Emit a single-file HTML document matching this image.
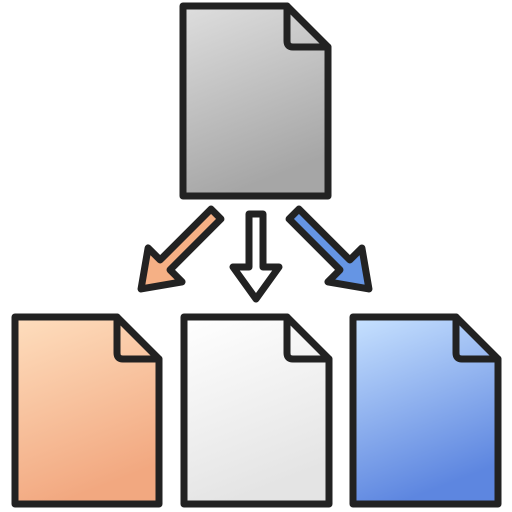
<!DOCTYPE html>
<html><head><style>html,body{margin:0;padding:0;background:#fff}svg{display:block}</style></head>
<body>
<svg width="512" height="512" viewBox="0 0 512 512" xmlns="http://www.w3.org/2000/svg">
<defs>
<linearGradient id="g" x1="0" y1="0" x2="0.3" y2="1"><stop offset="0" stop-color="#dedede"/><stop offset="1" stop-color="#a6a6a6"/></linearGradient>
<linearGradient id="o" x1="0" y1="0" x2="0.3" y2="1"><stop offset="0" stop-color="#fedebe"/><stop offset="1" stop-color="#f2a880"/></linearGradient>
<linearGradient id="w" x1="0" y1="0" x2="0.3" y2="1"><stop offset="0" stop-color="#ffffff"/><stop offset="1" stop-color="#e4e4e4"/></linearGradient>
<linearGradient id="b" x1="0" y1="0" x2="0.3" y2="1"><stop offset="0" stop-color="#c8e2ff"/><stop offset="1" stop-color="#5d86e0"/></linearGradient>
</defs>
<g stroke="#222" stroke-width="7" stroke-linejoin="round" stroke-linecap="round">
<path d="M183 6 H287 L328 47 V196 H183 Z" fill="url(#g)"/>
<path d="M287 6 V41 Q287 47 293 47 H328" fill="none"/>
<path d="M15 317 H117 L159 359 V504 H15 Z" fill="url(#o)"/>
<path d="M117 317 V353 Q117 359 123 359 H159" fill="none"/>
<path d="M184 317 H287 L329 359 V504 H184 Z" fill="url(#w)"/>
<path d="M287 317 V353 Q287 359 293 359 H329" fill="none"/>
<path d="M353 317 H456 L498 359 V504 H353 Z" fill="url(#b)"/>
<path d="M456 317 V353 Q456 359 462 359 H498" fill="none"/>
<path d="M249 214 H263 V267 H279 L256 299 L233 267 H249 Z" fill="#fff"/>
<g transform="translate(216,214) rotate(45)"><path d="M-7 0 H7 V72 H24 L0 106 L-24 72 H-7 Z" fill="#f5b085"/></g>
<g transform="translate(294,214) rotate(-45)"><path d="M-7 0 H7 V72 H24 L0 106 L-24 72 H-7 Z" fill="#6595e4"/></g>
</g>
</svg>
</body></html>
